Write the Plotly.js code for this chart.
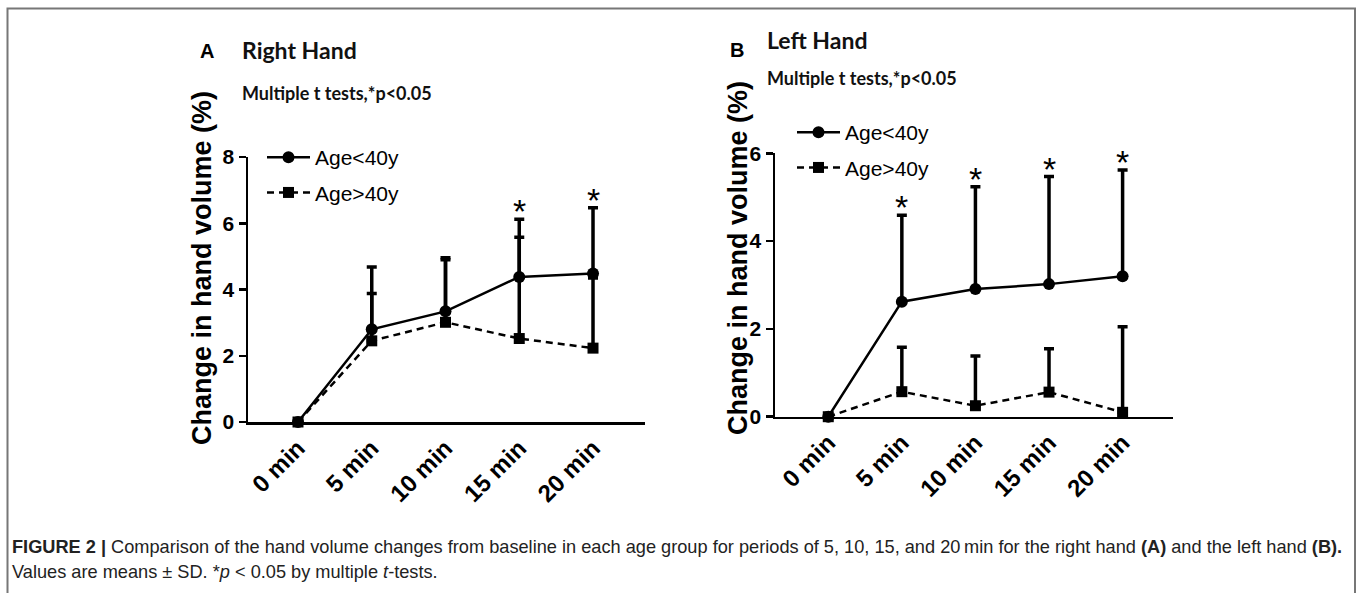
<!DOCTYPE html>
<html>
<head>
<meta charset="utf-8">
<script src="https://cdn.plot.ly/plotly-3.0.1.min.js"></script>
<style>html,body{margin:0;padding:0;background:#fff;}#chart{width:1358px;height:593px;}</style>
</head>
<body>
<div id="chart"></div>
<script>
// ---- data ----
const categories = ['0 min', '5 min', '10 min', '15 min', '20 min'];
const rightYoung = [0, 2.80, 3.34, 4.38, 4.48];
const rightYoungSD = [null, 1.88, 1.62, 1.74, 1.99];
const rightOld = [0, 2.45, 3.01, 2.52, 2.23];
const rightOldSD = [null, 1.43, 1.89, 3.06, 2.12];
const leftYoung = [0, 2.62, 2.91, 3.02, 3.20];
const leftYoungSD = [null, 1.97, 2.33, 2.45, 2.42];
const leftOld = [0, 0.57, 0.25, 0.56, 0.10];
const leftOldSD = [null, 1.01, 1.13, 0.99, 1.95];
const rightSig = [false, false, false, true, true];
const leftSig = [false, true, true, true, true];
const seriesNames = ['Age<40y', 'Age>40y'];

// ---- helpers ----
const W = 1358, H = 593;
const px = v => v / W;
const py = v => (H - v) / H;
const sans = 'Liberation Sans, Arial, sans-serif';
const tickFontY = {family: sans, size: 21, color: '#000', weight: 'bold'};
const tickFontX = {family: sans, size: 24, color: '#000', weight: 'bold'};
const titleFam = 'Lato, Liberation Sans, sans-serif';

function lineTrace(y, sd, name, young, xa, ya, legend, group) {
  return {
    x: categories, y: y, name: name, type: 'scatter', mode: 'lines+markers',
    xaxis: xa, yaxis: ya, legend: legend, legendgroup: group, cliponaxis: false,
    line: {color: '#000', width: 2.5, dash: young ? 'solid' : '7px,5px'},
    marker: {color: '#000', size: young ? 12 : 11, symbol: young ? 'circle' : 'square'},
    error_y: {type: 'data', symmetric: false, array: sd, arrayminus: sd.map(() => 0),
              color: '#000', thickness: 3.5, width: 5, visible: true},
    hoverinfo: 'skip'
  };
}
function starAnnotations(y, sd, sig, xa, ya) {
  const out = [];
  categories.forEach((c, i) => {
    if (sig[i]) out.push({x: c, y: y[i] + sd[i], xref: xa, yref: ya, text: '*', showarrow: false,
      xanchor: 'center', yanchor: 'middle', yshift: 8, font: {family: sans, size: 34, color: '#000'}});
  });
  return out;
}

const data = [
  lineTrace(rightYoung, rightYoungSD, seriesNames[0], true, 'x', 'y', 'legend', 'ry'),
  lineTrace(rightOld, rightOldSD, seriesNames[1], false, 'x', 'y', 'legend', 'ro'),
  lineTrace(leftYoung, leftYoungSD, seriesNames[0], true, 'x2', 'y2', 'legend2', 'ly'),
  lineTrace(leftOld, leftOldSD, seriesNames[1], false, 'x2', 'y2', 'legend2', 'lo')
];

function xAxis(d0, d1, r0, r1, anchor) {
  return {domain: [px(d0), px(d1)], range: [r0, r1], type: 'category', categoryarray: categories,
          anchor: anchor, tickangle: -45, ticks: '', showline: true, linewidth: 2.5, linecolor: '#000',
          showgrid: false, zeroline: false, tickfont: tickFontX, fixedrange: true};
}
function yAxis(top, bottom, rmax, anchor) {
  return {domain: [py(bottom), py(top)], range: [0, rmax], dtick: 2, anchor: anchor,
          ticks: 'outside', ticklen: 7, tickwidth: 2.5, tickcolor: '#000', showline: true, linewidth: 2.5,
          linecolor: '#000', showgrid: false, zeroline: false, tickfont: tickFontY, fixedrange: true};
}
const legendBase = {font: {family: sans, size: 21, color: '#000'},
                    bgcolor: 'rgba(0,0,0,0)', borderwidth: 0, xanchor: 'left', yanchor: 'top',
                    traceorder: 'grouped', tracegroupgap: 5, itemwidth: 43};

const ytitle = 'Change in hand volume (%)';
const base = {xref: 'paper', yref: 'paper', showarrow: false, xanchor: 'center', yanchor: 'middle'};
const annotations = [
  {text: '<b>A</b>', x: px(207), y: py(51), font: {family: sans, size: 20, color: '#000'}},
  {text: '<b>Right Hand</b>', x: px(240), y: py(50), xanchor: 'left', font: {family: titleFam, size: 23, color: '#111'}},
  {text: '<b>Multiple t tests,*p<0.05</b>', x: px(240), y: py(93), xanchor: 'left', font: {family: titleFam, size: 18, color: '#111'}},
  {text: '<b>B</b>', x: px(737), y: py(50), font: {family: sans, size: 20, color: '#000'}},
  {text: '<b>Left Hand</b>', x: px(765), y: py(40), xanchor: 'left', font: {family: titleFam, size: 23, color: '#111'}},
  {text: '<b>Multiple t tests,*p<0.05</b>', x: px(765), y: py(78), xanchor: 'left', font: {family: titleFam, size: 18, color: '#111'}},
  {text: '<b>' + ytitle + '</b>', x: px(202), y: py(268), textangle: -90, font: {family: sans, size: 27, color: '#000'}},
  {text: '<b>' + ytitle + '</b>', x: px(738), y: py(258), textangle: -90, font: {family: sans, size: 27, color: '#000'}},
  {text: '<b>FIGURE 2 |</b> Comparison of the hand volume changes from baseline in each age group for periods of 5, 10, 15, and 20\u2009min for the right hand <b>(A)</b> and the left hand <b>(B).</b>',
   x: px(10), y: py(547), xanchor: 'left', font: {family: sans, size: 18.2, color: '#222'}},
  {text: 'Values are means \u00b1 SD. *<i>p</i> < 0.05 by multiple <i>t</i>-tests.',
   x: px(10), y: py(572), xanchor: 'left', font: {family: sans, size: 18.2, color: '#222'}}
].map(a => Object.assign({}, base, a))
 .concat(starAnnotations(rightYoung, rightYoungSD, rightSig, 'x', 'y'))
 .concat(starAnnotations(leftYoung, leftYoungSD, leftSig, 'x2', 'y2'));

const frame = {type: 'path', xref: 'paper', yref: 'paper',
  path: `M ${px(7.5)} 0 L ${px(7.5)} ${py(8.5)} L ${px(1355)} ${py(8.5)} L ${px(1355)} 0`,
  line: {color: '#777', width: 2}};

const layout = {
  width: W, height: H, margin: {l: 0, r: 0, t: 0, b: 0},
  paper_bgcolor: '#fff', plot_bgcolor: 'rgba(0,0,0,0)', showlegend: true,
  xaxis: xAxis(248, 645, -0.678, 4.705, 'y'),
  yaxis: yAxis(157, 422, 8, 'x'),
  xaxis2: xAxis(775, 1173, -0.724, 4.685, 'y2'),
  yaxis2: yAxis(153.3, 416.7, 6, 'x2'),
  legend: Object.assign({x: px(262), y: py(137)}, legendBase),
  legend2: Object.assign({x: px(792), y: py(112)}, legendBase),
  annotations: annotations,
  shapes: [frame]
};

Plotly.newPlot('chart', data, layout, {staticPlot: true, displayModeBar: false});
</script>
</body>
</html>
